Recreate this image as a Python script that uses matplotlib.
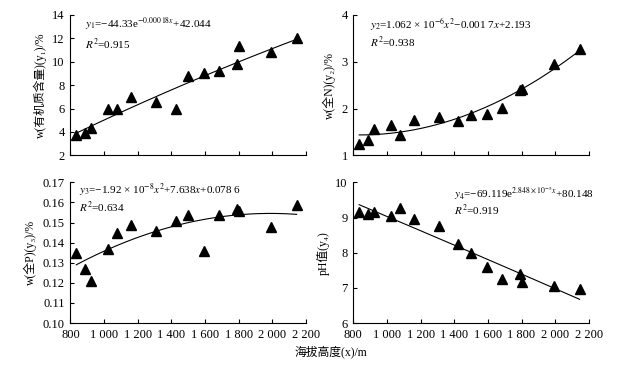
import numpy as np
import matplotlib
matplotlib.use("Agg")
import matplotlib.pyplot as plt
from matplotlib.ticker import FuncFormatter, MultipleLocator

plt.rcParams['font.family'] = ['Liberation Serif', 'Noto Sans CJK SC', 'DejaVu Serif']
plt.rcParams['mathtext.fontset'] = 'stix'

# altitude (m) shared by all four panels
altitude = np.array([835, 885, 925, 1025, 1075, 1160, 1310, 1425, 1500,
                     1595, 1685, 1790, 1800, 1995, 2145])
organic = [3.7, 3.9, 4.3, 6.0, 6.0, 7.0, 6.6, 6.0, 8.8, 9.0, 9.2, 9.8, 11.3, 10.8, 12.0]
total_n = [1.25, 1.32, 1.57, 1.65, 1.43, 1.75, 1.82, 1.74, 1.86, 1.89, 2.01, 2.40, 2.42, 2.95, 3.26]
total_p = [0.135, 0.127, 0.121, 0.137, 0.145, 0.149, 0.146, 0.151, 0.154, 0.136,
           0.154, 0.157, 0.156, 0.148, 0.159]
ph = [9.15, 9.10, 9.15, 9.05, 9.27, 8.97, 8.77, 8.25, 8.00, 7.58, 7.26, 7.40, 7.16, 7.06, 6.96]

# fitted equations shown on the chart
eq1 = (-44.33, -0.00018, 42.044)
eq3 = (-1.92e-8, 7.638e-5, 0.0786)
eq4 = (-69.119, 2.848e-5, 80.148)

xs = np.linspace(altitude.min(), altitude.max(), 200)
fit1 = eq1[0] * np.exp(eq1[1] * xs) + eq1[2]
fit2 = np.polyval(np.polyfit(altitude, total_n, 2), xs)
fit3 = eq3[0] * xs ** 2 + eq3[1] * xs + eq3[2]
fit4 = eq4[0] * np.exp(eq4[1] * xs) + eq4[2]

fig = plt.figure(figsize=(6.4, 3.7), dpi=100)
pos = [[0.110, 0.580, 0.368, 0.380], [0.552, 0.580, 0.368, 0.380],
       [0.110, 0.127, 0.368, 0.380], [0.552, 0.127, 0.368, 0.380]]

panels = [
    (organic, fit1, (2, 14), 2, 'w(有机质含量)(y₁)/%',
     r'$y_1$=−44.33e$^{−0.000\,18x}$+42.044', r'$R^2$=0.915', (0.06, 0.936, 0.79), '{:.0f}'),
    (total_n, fit2, (1, 4), 1, 'w(全N)(y₂)/%',
     r'$y_2$=1.062 × 10$^{−6}$$x^2$−0.001 7$x$+2.193', r'$R^2$=0.938', (0.071, 0.93, 0.80), '{:.0f}'),
    (total_p, fit3, (0.10, 0.17), 0.01, 'w(全P)(y₃)/%',
     r'$y_3$=−1.92 × 10$^{−8}$$x^2$+7.638$x$+0.078 6', r'$R^2$=0.634', (0.038, 0.94, 0.825), '{:.2f}'),
    (ph, fit4, (6, 10), 1, 'pH值(y₄)',
     r'$y_4$=−69.119e$^{2.848\times10^{−5}x}$+80.148', r'$R^2$=0.919', (0.427, 0.922, 0.80), '{:.0f}'),
]

for i, (vals, fit, ylim, ystep, ylab, eq, r2, tpos, yfmt) in enumerate(panels):
    ax = fig.add_axes(pos[i])
    ax.plot(xs, fit, color='black', lw=0.8)
    ax.plot(altitude, vals, linestyle='none', marker='^', ms=7, color='black')
    ax.set_xlim(800, 2200)
    ax.set_ylim(*ylim)
    ax.xaxis.set_major_locator(MultipleLocator(200))
    ax.yaxis.set_major_locator(MultipleLocator(ystep))
    ax.yaxis.set_major_formatter(FuncFormatter(lambda v, p, f=yfmt: f.format(v)))
    if i >= 2:
        ax.xaxis.set_major_formatter(FuncFormatter(lambda v, p: f'{v:,.0f}'.replace(',', ' ')))
    else:
        ax.set_xticklabels([])
    for s in ['top', 'right']:
        ax.spines[s].set_visible(False)
    for s in ['left', 'bottom']:
        ax.spines[s].set_linewidth(0.8)
    ax.tick_params(direction='in', length=3, width=0.8, labelsize=9, pad=4)
    ax.set_ylabel(ylab, fontsize=8.5, labelpad=4)
    ax.text(tpos[0], tpos[1], eq, transform=ax.transAxes, fontsize=8, va='center')
    ax.text(tpos[0], tpos[2], r2, transform=ax.transAxes, fontsize=8, va='center')

fig.text(0.517, 0.049, '海拔高度(x)/m', ha='center', va='center', fontsize=8.5)

fig.savefig('out.png', dpi=100)
